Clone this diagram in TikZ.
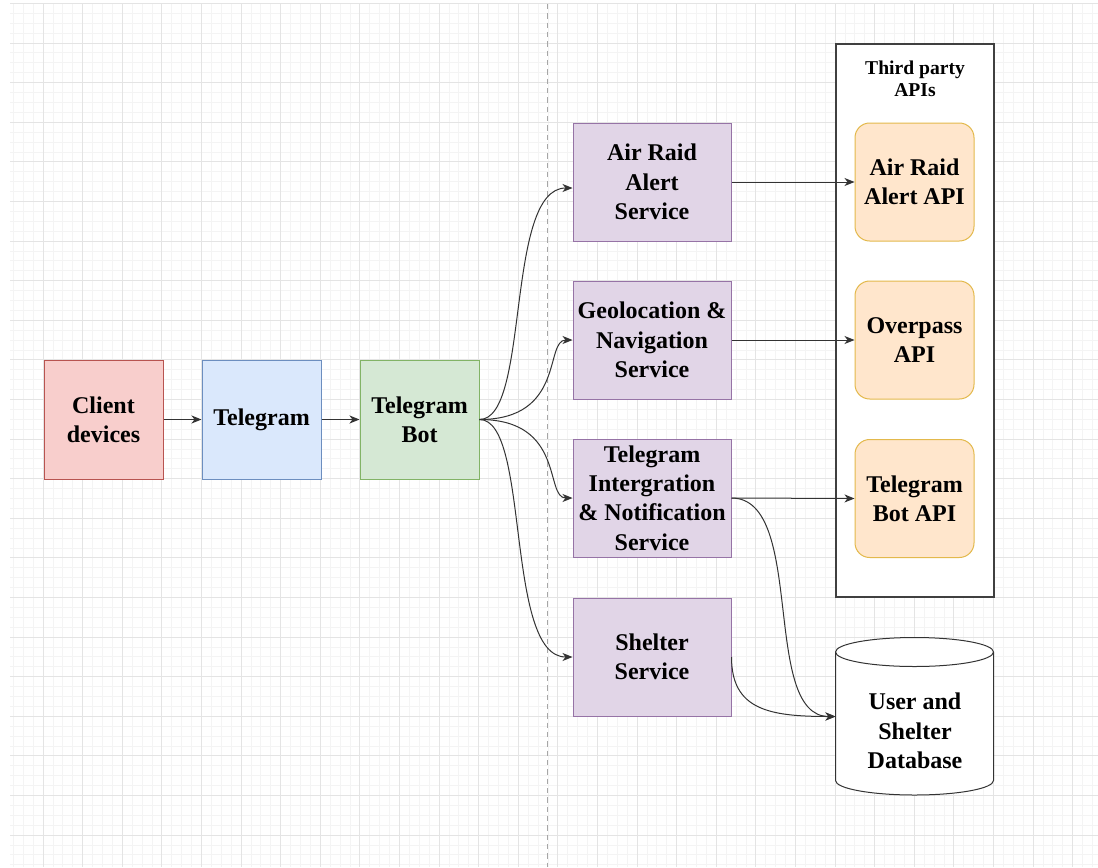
\documentclass[tikz,border=0pt]{standalone}
\usepackage{fontspec}
\setmainfont{Liberation Serif}
\usetikzlibrary{arrows.meta}

\definecolor{clientfill}{HTML}{F8CECC}
\definecolor{clientline}{HTML}{B85450}
\definecolor{tgfill}{HTML}{DAE8FC}
\definecolor{tgline}{HTML}{6C8EBF}
\definecolor{botfill}{HTML}{D5E8D4}
\definecolor{botline}{HTML}{82B366}
\definecolor{svcfill}{HTML}{E1D5E7}
\definecolor{svcline}{HTML}{9673A6}
\definecolor{apifill}{HTML}{FFE6CC}
\definecolor{apiline}{HTML}{D79B00}
\definecolor{minorgrid}{HTML}{F4F4F4}
\definecolor{majorgrid}{HTML}{E4E4E4}

\tikzset{every picture/.style={line width=0.75pt}}
\tikzset{
  boxlabel/.style={align=center, inner sep=0pt, font=\bfseries\fontsize{18}{22}\selectfont},
  leftbox/.style={boxlabel, draw, minimum width=89.25pt, minimum height=89.25pt},
  svcbox/.style={boxlabel, draw=svcline, fill=svcfill, minimum width=118.5pt, minimum height=88.5pt},
  apibox/.style={boxlabel, draw=apiline!70, fill=apifill, rounded corners=11pt, minimum width=89.25pt, minimum height=88.5pt},
  link/.style={draw=black!80, -{Stealth[length=7.5pt,width=6pt,inset=2.2pt]}}
}

\begin{document}
\begin{tikzpicture}[x=0.75pt,y=0.75pt,yscale=-1,xscale=1]
\useasboundingbox (0,0) rectangle (1098,867);
\fill[white] (0,0) rectangle (1098,867);

%Grid
\begin{scope}
\clip (10,4) rectangle (1098,867);
\foreach \i in {0,...,110} \draw[minorgrid] ({3.5+9.9*\i},4) -- ({3.5+9.9*\i},867);
\foreach \i in {0,...,87} \draw[minorgrid] (10,{3.5+9.9*\i}) -- (1098,{3.5+9.9*\i});
\foreach \i in {0,...,27} \draw[majorgrid] ({3.5+39.6*\i},4) -- ({3.5+39.6*\i},867);
\foreach \i in {0,...,22} \draw[majorgrid] (10,{3.5+39.6*\i}) -- (1098,{3.5+39.6*\i});
\end{scope}

%Divider
\draw[black!35, dash pattern=on 4pt off 3pt] (547,4) -- (547,867);

%Left column
\node[leftbox, draw=clientline, fill=clientfill] (client) at (103.5,419.5) {Client\\devices};
\node[leftbox, draw=tgline, fill=tgfill] (tg) at (261.5,419.5) {Telegram};
\node[leftbox, draw=botline, fill=botfill] (bot) at (419.5,419.5) {Telegram\\Bot};

%Services
\node[svcbox] (alert) at (652,182) {Air Raid\\Alert\\Service};
\node[svcbox] (geo) at (652,340) {Geolocation \&\\Navigation\\Service};
\node[svcbox] (notif) at (652,498) {Telegram\\Intergration\\\& Notification\\Service};
\node[svcbox] (shelter) at (652,657) {Shelter\\Service};

%Third party APIs
\node[draw=black!75, line width=1.1pt, fill=white, minimum width=118.5pt, minimum height=414.75pt] (apis) at (915,320.5) {};
\node[align=center, font=\bfseries\fontsize{14.7}{16.5}\selectfont] (apistitle) at (915,79) {Third party\\APIs};
\node[apibox] (alertapi) at (914.5,182) {Air Raid\\Alert API};
\node[apibox] (overpass) at (914.5,340) {Overpass\\API};
\node[apibox] (botapi) at (914.5,498.5) {Telegram\\Bot API};

%Database
\node[minimum width=118.5pt, minimum height=117.75pt] (db) at (915,716.5) {};
\draw[black!80, fill=white] (db.north west) ++(0,14.5) -- ++(0,128.5) arc[start angle=180, end angle=0, x radius=79, y radius=14.5] -- ++(0,-128.5) arc[start angle=0, end angle=-180, x radius=79, y radius=14.5];
\draw[black!80] (db.north west) ++(0,14.5) arc[start angle=180, end angle=0, x radius=79, y radius=14.5];
\node[boxlabel] (dbtext) at (915,731) {User and\\Shelter\\Database};

%Connectors
\draw[link] (client.east) -- (tg.west);
\draw[link] (tg.east) -- (bot.west);
\draw[link] (bot.east) .. controls +(51,0) and +(-68,0) .. ([yshift=4.5pt]alert.west);
\draw[link] (bot.east) .. controls +(86,0) and +(-28,0) .. (geo.west);
\draw[link] (bot.east) .. controls +(86,0) and +(-28,0) .. (notif.west);
\draw[link] (bot.east) .. controls +(51,0) and +(-68,0) .. (shelter.west);
\draw[link] (alert.east) -- (alertapi.west);
\draw[link] (geo.east) -- (overpass.west);
\draw[link] (notif.east) -- (botapi.west);
\draw[link] (notif.east) .. controls +(75,0) and +(-75,0) .. (db.west);
\draw[link] (shelter.east) .. controls +(0,53) and +(-66,0) .. (db.west);

\end{tikzpicture}
\end{document}
